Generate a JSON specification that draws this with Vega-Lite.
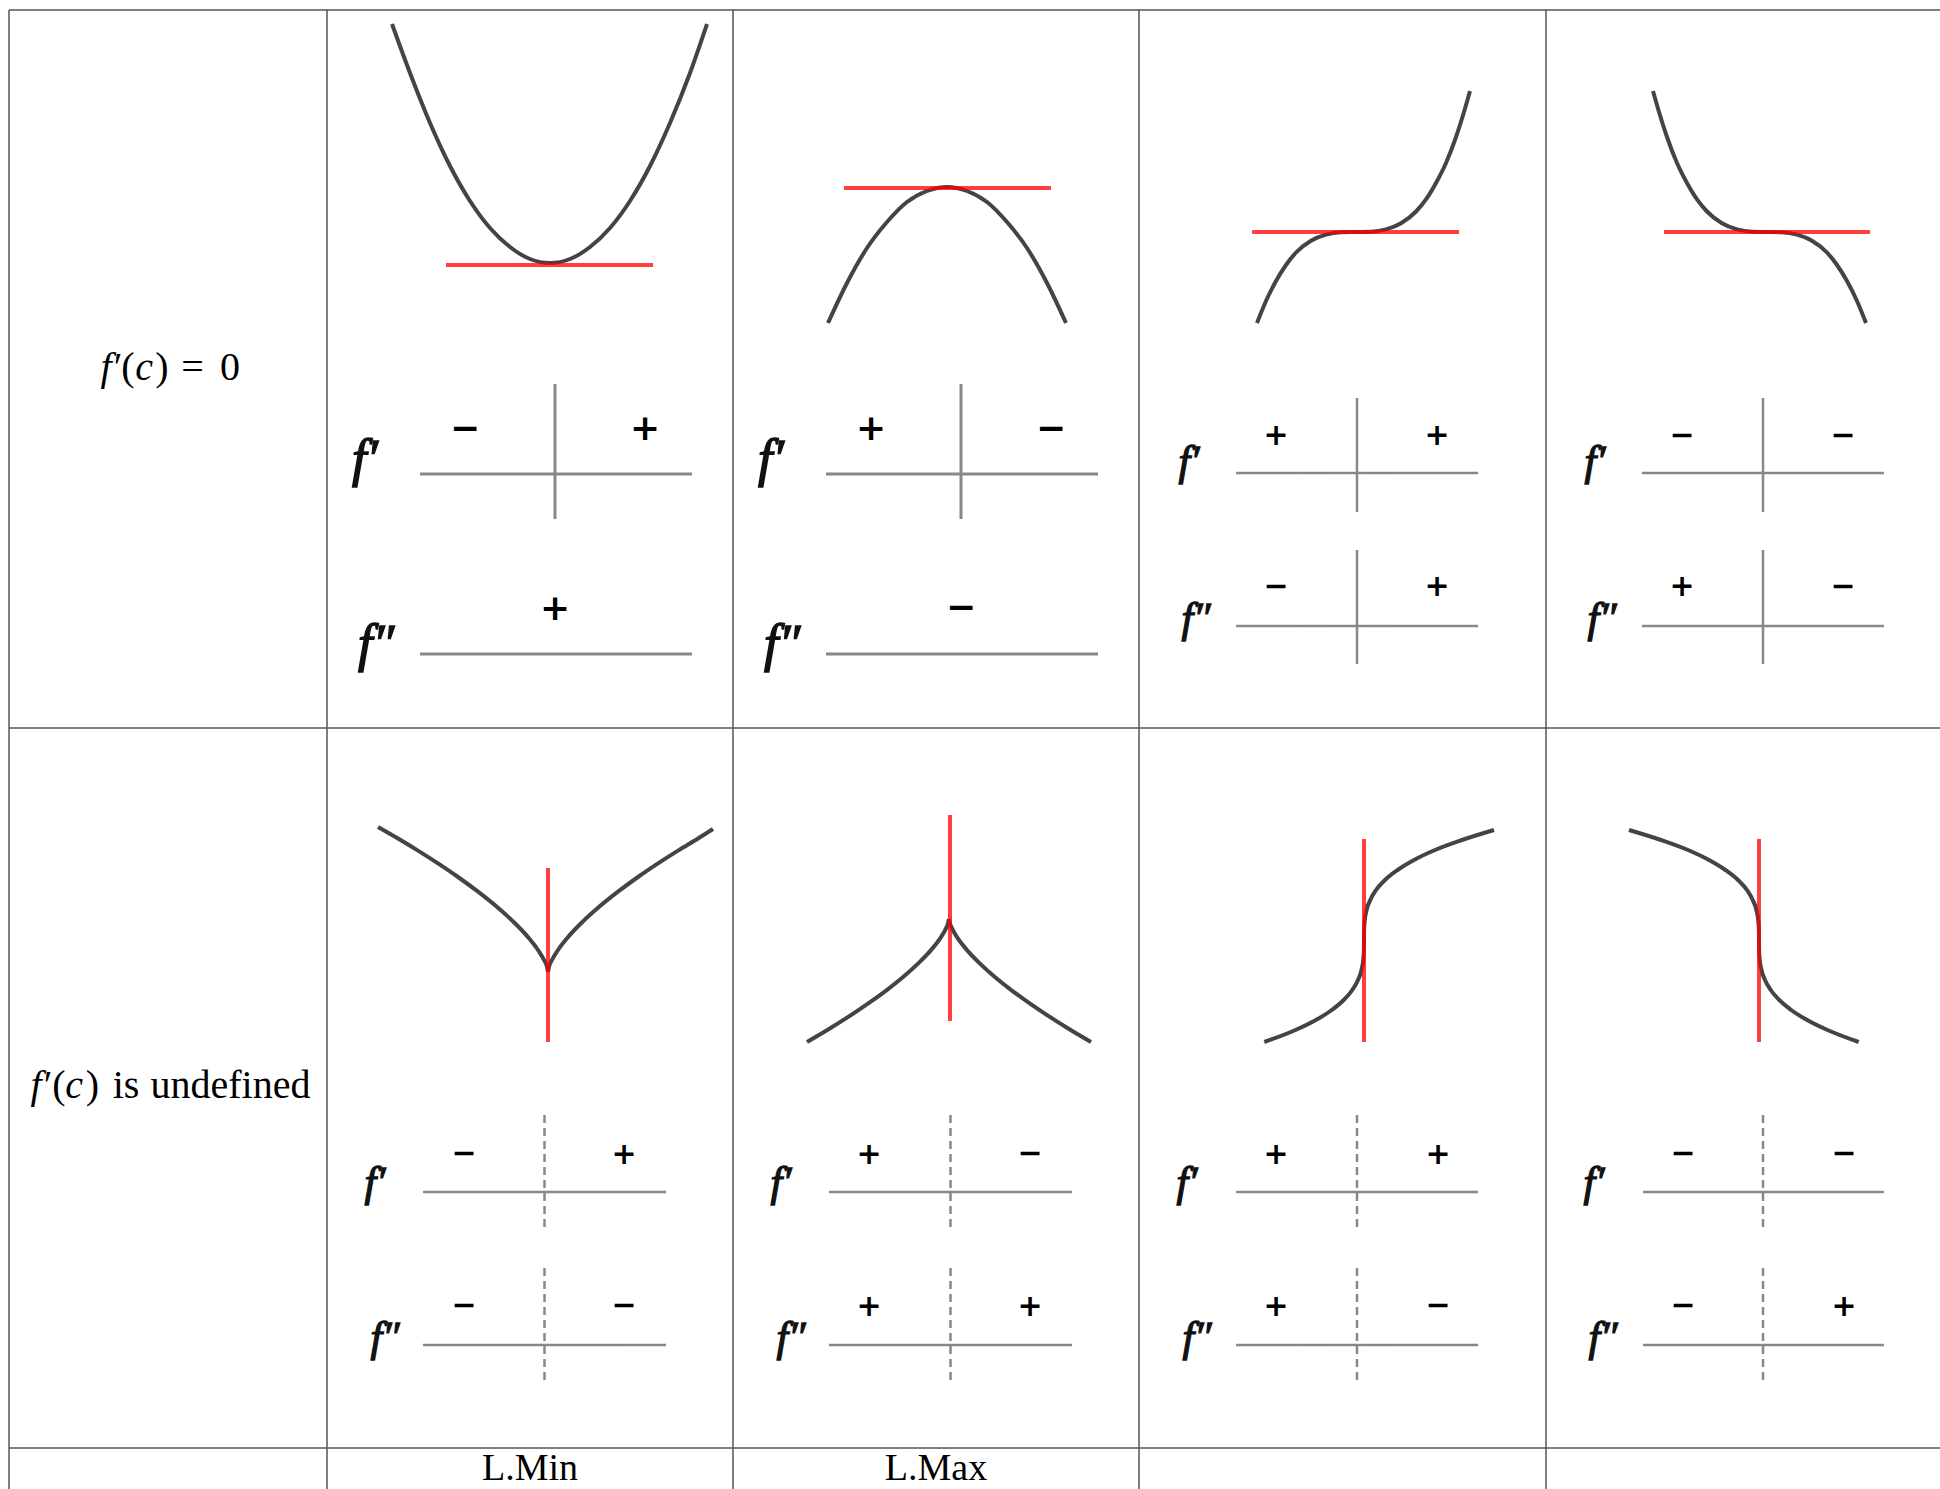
{
"$schema":"https://vega.github.io/schema/vega-lite/v6.json",
"width":1940,"height":1489,"padding":0,"autosize":{"type":"none"},
"background":"white",
"config":{"view":{"stroke":null}},
"datasets":{
"grid":[
{"x":9,"x2":1940,"y":10,"y2":10},{"x":9,"x2":1940,"y":728,"y2":728},{"x":9,"x2":1940,"y":1448,"y2":1448},
{"x":9,"x2":9,"y":10,"y2":1489},{"x":327,"x2":327,"y":10,"y2":1489},{"x":733,"x2":733,"y":10,"y2":1489},{"x":1139,"x2":1139,"y":10,"y2":1489},{"x":1546,"x2":1546,"y":10,"y2":1489}],
"axes":[
{"x":420,"x2":692,"y":474,"y2":474,"panel":"big","line":"solid"},
{"x":555,"x2":555,"y":384,"y2":519,"panel":"big","line":"solid"},
{"x":420,"x2":692,"y":654,"y2":654,"panel":"big","line":"solid"},
{"x":826,"x2":1098,"y":474,"y2":474,"panel":"big","line":"solid"},
{"x":961,"x2":961,"y":384,"y2":519,"panel":"big","line":"solid"},
{"x":826,"x2":1098,"y":654,"y2":654,"panel":"big","line":"solid"},
{"x":1236,"x2":1478,"y":473,"y2":473,"panel":"small","line":"solid"},
{"x":1357,"x2":1357,"y":398,"y2":512,"panel":"small","line":"solid"},
{"x":1236,"x2":1478,"y":626,"y2":626,"panel":"small","line":"solid"},
{"x":1357,"x2":1357,"y":550,"y2":664,"panel":"small","line":"solid"},
{"x":1642,"x2":1884,"y":473,"y2":473,"panel":"small","line":"solid"},
{"x":1763,"x2":1763,"y":398,"y2":512,"panel":"small","line":"solid"},
{"x":1642,"x2":1884,"y":626,"y2":626,"panel":"small","line":"solid"},
{"x":1763,"x2":1763,"y":550,"y2":664,"panel":"small","line":"solid"},
{"x":423,"x2":666,"y":1192,"y2":1192,"panel":"small","line":"solid"},
{"x":544.5,"x2":544.5,"y":1115,"y2":1232,"panel":"small","line":"dashed"},
{"x":423,"x2":666,"y":1345,"y2":1345,"panel":"small","line":"solid"},
{"x":544.5,"x2":544.5,"y":1268,"y2":1383,"panel":"small","line":"dashed"},
{"x":829,"x2":1072,"y":1192,"y2":1192,"panel":"small","line":"solid"},
{"x":950.5,"x2":950.5,"y":1115,"y2":1232,"panel":"small","line":"dashed"},
{"x":829,"x2":1072,"y":1345,"y2":1345,"panel":"small","line":"solid"},
{"x":950.5,"x2":950.5,"y":1268,"y2":1383,"panel":"small","line":"dashed"},
{"x":1236,"x2":1478,"y":1192,"y2":1192,"panel":"small","line":"solid"},
{"x":1357,"x2":1357,"y":1115,"y2":1232,"panel":"small","line":"dashed"},
{"x":1236,"x2":1478,"y":1345,"y2":1345,"panel":"small","line":"solid"},
{"x":1357,"x2":1357,"y":1268,"y2":1383,"panel":"small","line":"dashed"},
{"x":1643,"x2":1884,"y":1192,"y2":1192,"panel":"small","line":"solid"},
{"x":1763,"x2":1763,"y":1115,"y2":1232,"panel":"small","line":"dashed"},
{"x":1643,"x2":1884,"y":1345,"y2":1345,"panel":"small","line":"solid"},
{"x":1763,"x2":1763,"y":1268,"y2":1383,"panel":"small","line":"dashed"}],
"signs":[
{"x":465,"y":429,"t":"−","panel":"big"},{"x":645,"y":429,"t":"+","panel":"big"},{"x":555,"y":609,"t":"+","panel":"big"},
{"x":871,"y":429,"t":"+","panel":"big"},{"x":1051,"y":429,"t":"−","panel":"big"},{"x":961,"y":608,"t":"−","panel":"big"},
{"x":1276,"y":436,"t":"+","panel":"small"},{"x":1437,"y":436,"t":"+","panel":"small"},{"x":1276,"y":587,"t":"−","panel":"small"},{"x":1437,"y":587,"t":"+","panel":"small"},
{"x":1682,"y":436,"t":"−","panel":"small"},{"x":1843,"y":436,"t":"−","panel":"small"},{"x":1682,"y":587,"t":"+","panel":"small"},{"x":1843,"y":587,"t":"−","panel":"small"},
{"x":464,"y":1154,"t":"−","panel":"small"},{"x":624,"y":1155,"t":"+","panel":"small"},{"x":464,"y":1306,"t":"−","panel":"small"},{"x":624,"y":1306,"t":"−","panel":"small"},
{"x":869,"y":1155,"t":"+","panel":"small"},{"x":1030,"y":1154,"t":"−","panel":"small"},{"x":869,"y":1307,"t":"+","panel":"small"},{"x":1030,"y":1307,"t":"+","panel":"small"},
{"x":1276,"y":1155,"t":"+","panel":"small"},{"x":1438,"y":1155,"t":"+","panel":"small"},{"x":1276,"y":1307,"t":"+","panel":"small"},{"x":1438,"y":1306,"t":"−","panel":"small"},
{"x":1683,"y":1154,"t":"−","panel":"small"},{"x":1844,"y":1154,"t":"−","panel":"small"},{"x":1683,"y":1306,"t":"−","panel":"small"},{"x":1844,"y":1307,"t":"+","panel":"small"}],
"flab":[
{"t":"f′","x":365,"y":460,"panel":"big"},{"t":"f″","x":376,"y":645,"panel":"big"},
{"t":"f′","x":771,"y":460,"panel":"big"},{"t":"f″","x":782,"y":645,"panel":"big"},
{"t":"f′","x":1189,"y":462,"panel":"small"},{"t":"f″","x":1196,"y":619,"panel":"small"},
{"t":"f′","x":1595,"y":462,"panel":"small"},{"t":"f″","x":1602,"y":619,"panel":"small"},
{"t":"f′","x":375,"y":1183,"panel":"small"},{"t":"f″","x":385,"y":1338,"panel":"small"},
{"t":"f′","x":781,"y":1183,"panel":"small"},{"t":"f″","x":791,"y":1338,"panel":"small"},
{"t":"f′","x":1187,"y":1183,"panel":"small"},{"t":"f″","x":1197,"y":1338,"panel":"small"},
{"t":"f′","x":1594,"y":1183,"panel":"small"},{"t":"f″","x":1603,"y":1338,"panel":"small"}],
"curves":[
{"id":"c1","x":392,"y":24},{"id":"c1","x":410,"y":73},{"id":"c1","x":430,"y":123},{"id":"c1","x":450,"y":166},{"id":"c1","x":470,"y":201},{"id":"c1","x":490,"y":228},{"id":"c1","x":510,"y":247},{"id":"c1","x":530,"y":259},{"id":"c1","x":550,"y":263},{"id":"c1","x":570,"y":259},{"id":"c1","x":590,"y":247},{"id":"c1","x":610,"y":228},{"id":"c1","x":630,"y":201},{"id":"c1","x":650,"y":166},{"id":"c1","x":670,"y":123},{"id":"c1","x":690,"y":73},{"id":"c1","x":707,"y":24},
{"id":"c2","x":828,"y":323},{"id":"c2","x":847,"y":283},{"id":"c2","x":867,"y":248},{"id":"c2","x":887,"y":222},{"id":"c2","x":907,"y":202},{"id":"c2","x":927,"y":191},{"id":"c2","x":947,"y":187},{"id":"c2","x":967,"y":191},{"id":"c2","x":987,"y":202},{"id":"c2","x":1007,"y":222},{"id":"c2","x":1027,"y":248},{"id":"c2","x":1047,"y":283},{"id":"c2","x":1066,"y":323},
{"id":"c3","x":1257,"y":323},{"id":"c3","x":1266,"y":301},{"id":"c3","x":1276,"y":281},{"id":"c3","x":1286,"y":265},{"id":"c3","x":1296,"y":252.5},{"id":"c3","x":1311,"y":240.7},{"id":"c3","x":1326,"y":234.6},{"id":"c3","x":1341,"y":232.3},{"id":"c3","x":1356,"y":232},{"id":"c3","x":1371,"y":231.7},{"id":"c3","x":1386,"y":229.4},{"id":"c3","x":1401,"y":223.3},{"id":"c3","x":1416,"y":211.5},{"id":"c3","x":1426,"y":199.4},{"id":"c3","x":1436,"y":183},{"id":"c3","x":1446,"y":163},{"id":"c3","x":1456,"y":137},{"id":"c3","x":1464,"y":112},{"id":"c3","x":1470,"y":91},
{"id":"c4","x":1653,"y":91},{"id":"c4","x":1659,"y":112},{"id":"c4","x":1667,"y":137},{"id":"c4","x":1677,"y":163},{"id":"c4","x":1687,"y":183},{"id":"c4","x":1697,"y":199.4},{"id":"c4","x":1707,"y":211.5},{"id":"c4","x":1722,"y":223.3},{"id":"c4","x":1737,"y":229.4},{"id":"c4","x":1752,"y":231.7},{"id":"c4","x":1767,"y":232},{"id":"c4","x":1782,"y":232.3},{"id":"c4","x":1797,"y":234.6},{"id":"c4","x":1812,"y":240.7},{"id":"c4","x":1827,"y":252.5},{"id":"c4","x":1837,"y":265},{"id":"c4","x":1847,"y":281},{"id":"c4","x":1857,"y":301},{"id":"c4","x":1866,"y":323},
{"id":"c5a","x":378,"y":827},{"id":"c5a","x":398,"y":838.5},{"id":"c5a","x":418,"y":850.6},{"id":"c5a","x":438,"y":863.4},{"id":"c5a","x":458,"y":877},{"id":"c5a","x":478,"y":891.7},{"id":"c5a","x":498,"y":907.8},{"id":"c5a","x":513,"y":921.4},{"id":"c5a","x":528,"y":937.1},{"id":"c5a","x":538,"y":950},{"id":"c5a","x":544,"y":960},{"id":"c5a","x":547,"y":967},{"id":"c5a","x":548,"y":972},
{"id":"c5b","x":548,"y":972},{"id":"c5b","x":549,"y":967},{"id":"c5b","x":552,"y":960},{"id":"c5b","x":558,"y":950},{"id":"c5b","x":568,"y":937.1},{"id":"c5b","x":583,"y":921.4},{"id":"c5b","x":598,"y":907.8},{"id":"c5b","x":618,"y":891.7},{"id":"c5b","x":638,"y":877},{"id":"c5b","x":658,"y":863.4},{"id":"c5b","x":678,"y":850.6},{"id":"c5b","x":698,"y":838.5},{"id":"c5b","x":713,"y":829},
{"id":"c6a","x":807,"y":1042},{"id":"c6a","x":829,"y":1029},{"id":"c6a","x":849,"y":1016.4},{"id":"c6a","x":869,"y":1002.9},{"id":"c6a","x":889,"y":988.3},{"id":"c6a","x":904,"y":976.2},{"id":"c6a","x":919,"y":962.6},{"id":"c6a","x":931,"y":950.1},{"id":"c6a","x":940,"y":938.6},{"id":"c6a","x":946,"y":928.4},{"id":"c6a","x":948,"y":923.5},{"id":"c6a","x":949,"y":919},
{"id":"c6b","x":949,"y":919},{"id":"c6b","x":950,"y":923.5},{"id":"c6b","x":952,"y":928.4},{"id":"c6b","x":958,"y":938.6},{"id":"c6b","x":967,"y":950.1},{"id":"c6b","x":979,"y":962.6},{"id":"c6b","x":994,"y":976.2},{"id":"c6b","x":1009,"y":988.3},{"id":"c6b","x":1029,"y":1002.9},{"id":"c6b","x":1049,"y":1016.4},{"id":"c6b","x":1069,"y":1029},{"id":"c6b","x":1091,"y":1042},
{"id":"c7","x":1264.3,"y":1042},{"id":"c7","x":1295.5,"y":1030},{"id":"c7","x":1315.9,"y":1020},{"id":"c7","x":1331.8,"y":1010},{"id":"c7","x":1343.7,"y":1000},{"id":"c7","x":1352.3,"y":990},{"id":"c7","x":1358,"y":980},{"id":"c7","x":1361.5,"y":970},{"id":"c7","x":1363.25,"y":960},{"id":"c7","x":1363.9,"y":950},{"id":"c7","x":1364,"y":940},{"id":"c7","x":1364.1,"y":930},{"id":"c7","x":1364.8,"y":920},{"id":"c7","x":1366.6,"y":910},{"id":"c7","x":1370.3,"y":900},{"id":"c7","x":1376,"y":890},{"id":"c7","x":1385,"y":880},{"id":"c7","x":1397.6,"y":870},{"id":"c7","x":1414,"y":860},{"id":"c7","x":1435,"y":850},{"id":"c7","x":1462,"y":840},{"id":"c7","x":1494,"y":830},
{"id":"c8","x":1629,"y":830},{"id":"c8","x":1661,"y":840},{"id":"c8","x":1688,"y":850},{"id":"c8","x":1709,"y":860},{"id":"c8","x":1725.4,"y":870},{"id":"c8","x":1738,"y":880},{"id":"c8","x":1747,"y":890},{"id":"c8","x":1752.7,"y":900},{"id":"c8","x":1756.4,"y":910},{"id":"c8","x":1758.2,"y":920},{"id":"c8","x":1758.9,"y":930},{"id":"c8","x":1759,"y":940},{"id":"c8","x":1759.1,"y":950},{"id":"c8","x":1759.75,"y":960},{"id":"c8","x":1761.5,"y":970},{"id":"c8","x":1765,"y":980},{"id":"c8","x":1770.7,"y":990},{"id":"c8","x":1779.3,"y":1000},{"id":"c8","x":1791.2,"y":1010},{"id":"c8","x":1807.1,"y":1020},{"id":"c8","x":1827.5,"y":1030},{"id":"c8","x":1858.7,"y":1042}],
"tangents":[
{"x":446,"x2":653,"y":265,"y2":265},{"x":844,"x2":1051,"y":188,"y2":188},{"x":1252,"x2":1459,"y":232,"y2":232},{"x":1664,"x2":1870,"y":232,"y2":232},
{"x":548,"x2":548,"y":868,"y2":1042},{"x":950,"x2":950,"y":815,"y2":1021},{"x":1364,"x2":1364,"y":839,"y2":1042},{"x":1759,"x2":1759,"y":839,"y2":1042}],
"texts":[
{"t":"f","x":106,"y":380,"s":"it"},{"t":"′","x":118,"y":380,"s":"rm"},{"t":"(","x":128,"y":380,"s":"rm"},{"t":"c","x":144,"y":380,"s":"it"},{"t":")","x":162,"y":380,"s":"rm"},{"t":"=","x":192.5,"y":380,"s":"rm"},{"t":"0","x":230,"y":380,"s":"rm"},
{"t":"f","x":36,"y":1098,"s":"it"},{"t":"′","x":48,"y":1098,"s":"rm"},{"t":"(","x":59,"y":1098,"s":"rm"},{"t":"c","x":74,"y":1098,"s":"it"},{"t":")","x":92.5,"y":1098,"s":"rm"},{"t":"is","x":126,"y":1098,"s":"rm"},{"t":"undefined","x":230.5,"y":1098,"s":"rm"},
{"t":"L.Min","x":530,"y":1480,"s":"cap"},{"t":"L.Max","x":936,"y":1480,"s":"cap"}]
},
"layer":[
{"data":{"name":"grid"},"mark":{"type":"rule","color":"#555555","strokeWidth":1.5},
 "encoding":{"x":{"field":"x","type":"quantitative","scale":{"domain":[0,1940],"nice":false,"zero":false},"axis":null},"x2":{"field":"x2"},
 "y":{"field":"y","type":"quantitative","scale":{"domain":[0,1489],"nice":false,"zero":false,"reverse":true},"axis":null},"y2":{"field":"y2"}}},
{"data":{"name":"axes"},"transform":[{"filter":"datum.panel === 'big'"}],"mark":{"type":"rule","color":"#888888","strokeWidth":3},
 "encoding":{"x":{"field":"x","type":"quantitative","scale":{"domain":[0,1940],"nice":false,"zero":false},"axis":null},"x2":{"field":"x2"},
 "y":{"field":"y","type":"quantitative","scale":{"domain":[0,1489],"nice":false,"zero":false,"reverse":true},"axis":null},"y2":{"field":"y2"}}},
{"data":{"name":"axes"},"transform":[{"filter":"datum.panel === 'small'"}],"mark":{"type":"rule","color":"#888888","strokeWidth":2.5},
 "encoding":{"x":{"field":"x","type":"quantitative","scale":{"domain":[0,1940],"nice":false,"zero":false},"axis":null},"x2":{"field":"x2"},
 "y":{"field":"y","type":"quantitative","scale":{"domain":[0,1489],"nice":false,"zero":false,"reverse":true},"axis":null},"y2":{"field":"y2"},
 "strokeDash":{"field":"line","type":"nominal","scale":{"domain":["solid","dashed"],"range":[[1,0],[8,5]]},"legend":null}}},
{"data":{"name":"signs"},"transform":[{"filter":"datum.panel === 'big'"}],"mark":{"type":"text","font":"DejaVu Sans","fontWeight":"bold","fontSize":36,"align":"center","baseline":"middle","color":"#000000"},
 "encoding":{"x":{"field":"x","type":"quantitative","scale":{"domain":[0,1940],"nice":false,"zero":false},"axis":null},
 "y":{"field":"y","type":"quantitative","scale":{"domain":[0,1489],"nice":false,"zero":false,"reverse":true},"axis":null},
 "text":{"field":"t"}}},
{"data":{"name":"signs"},"transform":[{"filter":"datum.panel === 'small'"}],"mark":{"type":"text","font":"DejaVu Sans","fontWeight":"bold","fontSize":30,"align":"center","baseline":"middle","color":"#000000"},
 "encoding":{"x":{"field":"x","type":"quantitative","scale":{"domain":[0,1940],"nice":false,"zero":false},"axis":null},
 "y":{"field":"y","type":"quantitative","scale":{"domain":[0,1489],"nice":false,"zero":false,"reverse":true},"axis":null},
 "text":{"field":"t"}}},
{"data":{"name":"flab"},"transform":[{"filter":"datum.panel === 'big'"}],"mark":{"type":"text","font":"Liberation Serif","fontStyle":"italic","fontSize":52,"align":"center","baseline":"middle","color":"#111111","stroke":"#111111","strokeWidth":1.5},
 "encoding":{"x":{"field":"x","type":"quantitative","scale":{"domain":[0,1940],"nice":false,"zero":false},"axis":null},
 "y":{"field":"y","type":"quantitative","scale":{"domain":[0,1489],"nice":false,"zero":false,"reverse":true},"axis":null},
 "text":{"field":"t"}}},
{"data":{"name":"flab"},"transform":[{"filter":"datum.panel === 'small'"}],"mark":{"type":"text","font":"Liberation Serif","fontStyle":"italic","fontSize":42,"align":"center","baseline":"middle","color":"#111111","stroke":"#111111","strokeWidth":1.3},
 "encoding":{"x":{"field":"x","type":"quantitative","scale":{"domain":[0,1940],"nice":false,"zero":false},"axis":null},
 "y":{"field":"y","type":"quantitative","scale":{"domain":[0,1489],"nice":false,"zero":false,"reverse":true},"axis":null},
 "text":{"field":"t"}}},
{"data":{"name":"curves"},"mark":{"type":"line","color":"#444444","strokeWidth":4,"interpolate":"monotone","strokeCap":"butt"},
 "encoding":{"x":{"field":"x","type":"quantitative","scale":{"domain":[0,1940],"nice":false,"zero":false},"axis":null},
 "y":{"field":"y","type":"quantitative","scale":{"domain":[0,1489],"nice":false,"zero":false,"reverse":true},"axis":null},
 "detail":{"field":"id","type":"nominal"}}},
{"data":{"name":"tangents"},"mark":{"type":"rule","color":"#ff0000","opacity":0.75,"strokeWidth":4},
 "encoding":{"x":{"field":"x","type":"quantitative","scale":{"domain":[0,1940],"nice":false,"zero":false},"axis":null},"x2":{"field":"x2"},
 "y":{"field":"y","type":"quantitative","scale":{"domain":[0,1489],"nice":false,"zero":false,"reverse":true},"axis":null},"y2":{"field":"y2"}}},
{"data":{"name":"texts"},"transform":[{"filter":"datum.s === 'it'"}],"mark":{"type":"text","font":"Liberation Serif","fontStyle":"italic","fontSize":40,"align":"center","baseline":"alphabetic","color":"#000000"},
 "encoding":{"x":{"field":"x","type":"quantitative","scale":{"domain":[0,1940],"nice":false,"zero":false},"axis":null},
 "y":{"field":"y","type":"quantitative","scale":{"domain":[0,1489],"nice":false,"zero":false,"reverse":true},"axis":null},
 "text":{"field":"t"}}},
{"data":{"name":"texts"},"transform":[{"filter":"datum.s === 'rm'"}],"mark":{"type":"text","font":"Liberation Serif","fontSize":40,"align":"center","baseline":"alphabetic","color":"#000000"},
 "encoding":{"x":{"field":"x","type":"quantitative","scale":{"domain":[0,1940],"nice":false,"zero":false},"axis":null},
 "y":{"field":"y","type":"quantitative","scale":{"domain":[0,1489],"nice":false,"zero":false,"reverse":true},"axis":null},
 "text":{"field":"t"}}},
{"data":{"name":"texts"},"transform":[{"filter":"datum.s === 'cap'"}],"mark":{"type":"text","font":"Liberation Serif","fontSize":38,"align":"center","baseline":"alphabetic","color":"#000000"},
 "encoding":{"x":{"field":"x","type":"quantitative","scale":{"domain":[0,1940],"nice":false,"zero":false},"axis":null},
 "y":{"field":"y","type":"quantitative","scale":{"domain":[0,1489],"nice":false,"zero":false,"reverse":true},"axis":null},
 "text":{"field":"t"}}}
]
}
